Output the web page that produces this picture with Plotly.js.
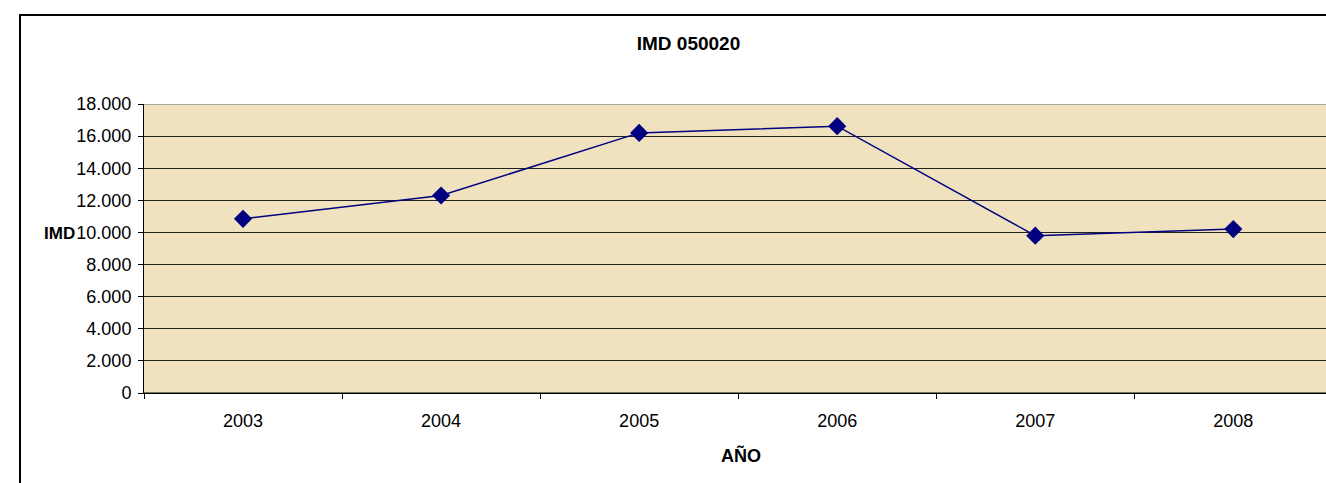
<!DOCTYPE html>
<html>
<head>
<meta charset="utf-8">
<script src="https://cdn.plot.ly/plotly-3.0.1.min.js"></script>
<style>
  html, body { margin: 0; padding: 0; background: #fff; overflow: hidden; }
  #wrap { position: relative; width: 1326px; height: 483px; }
  #chart { position: absolute; left: 0; top: 0; width: 1326px; height: 483px; }
  #frame { position: absolute; left: 19px; top: 14px; width: 1400px; height: 600px;
           border-top: 2px solid #000; border-left: 2px solid #000; pointer-events: none; }
</style>
</head>
<body>
<div id="wrap">
  <div id="chart"></div>
  <div id="frame"></div>
</div>
<script>
const years = ['2003', '2004', '2005', '2006', '2007', '2008'];
const imd = [10850, 12300, 16200, 16620, 9800, 10210];
const yTicks = [0, 2000, 4000, 6000, 8000, 10000, 12000, 14000, 16000, 18000];
const chartTitle = 'IMD 050020';
const xTitle = 'AÑO';
const yTitle = 'IMD';

const font = 'Liberation Sans, Arial, sans-serif';

const trace = {
  x: years,
  y: imd,
  type: 'scatter',
  mode: 'lines+markers',
  line: { color: '#000080', width: 1.5 },
  marker: { symbol: 'diamond', size: 14, color: '#000080' },
  hoverinfo: 'x+y',
  cliponaxis: false
};

const layout = {
  width: 1326,
  height: 483,
  margin: { l: 144, r: 0, t: 104, b: 90, pad: 0 },
  paper_bgcolor: '#ffffff',
  plot_bgcolor: '#f1e2bf',
  separators: ',.',
  showlegend: false,
  font: { family: font, size: 18, color: '#000' },
  title: {
    text: '<b>' + chartTitle + '</b>',
    font: { family: font, size: 19, color: '#000' },
    xref: 'container', yref: 'container',
    x: 688.5 / 1326, y: 1 - 43.5 / 483,
    xanchor: 'center', yanchor: 'middle'
  },
  xaxis: {
    type: 'category',
    categoryorder: 'array',
    categoryarray: years,
    range: [-0.5, 5.468],
    showgrid: false,
    showline: true,
    linecolor: '#000',
    linewidth: 1,
    ticks: 'outside',
    tickson: 'boundaries',
    ticklen: 5,
    tickcolor: '#000',
    tickwidth: 1,
    ticklabelstandoff: 11,
    tickfont: { family: font, size: 18, color: '#000' },
    zeroline: false,
    fixedrange: true
  },
  yaxis: {
    range: [0, 18000],
    tickvals: yTicks,
    tickformat: ',d',
    showgrid: true,
    gridcolor: '#222222',
    gridwidth: 1,
    showline: true,
    linecolor: '#000',
    linewidth: 1,
    ticks: 'outside',
    ticklen: 5,
    tickcolor: '#000',
    tickwidth: 1,
    ticklabelstandoff: 3,
    tickfont: { family: font, size: 18, color: '#000' },
    zeroline: false,
    fixedrange: true
  },
  shapes: [
    { type: 'line', xref: 'paper', yref: 'y', x0: 0, x1: 1, y0: 18000, y1: 18000,
      line: { color: '#a8a8a8', width: 2 } },
    { type: 'line', xref: 'paper', yref: 'y', x0: 0, x1: 1, y0: 0, y1: 0,
      line: { color: '#000', width: 1 } }
  ],
  annotations: [
    { text: '<b>' + xTitle + '</b>', xref: 'paper', yref: 'paper',
      x: (741 - 144) / 1182, y: -(455 - 393) / 289,
      xanchor: 'center', yanchor: 'middle', showarrow: false,
      font: { family: font, size: 18, color: '#000' } },
    { text: '<b>' + yTitle + '</b>', xref: 'paper', yref: 'paper',
      x: -(144 - 59.5) / 1182, y: (393 - 233) / 289,
      xanchor: 'center', yanchor: 'middle', showarrow: false,
      font: { family: font, size: 17, color: '#000' } }
  ]
};

Plotly.newPlot('chart', [trace], layout, { displayModeBar: false, staticPlot: true });
</script>
</body>
</html>
